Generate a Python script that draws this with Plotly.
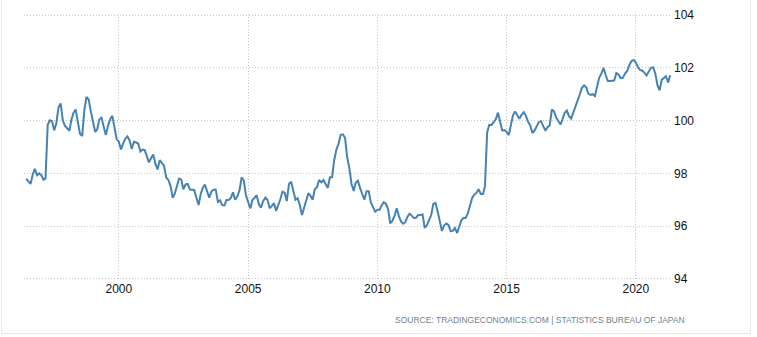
import pandas as pd
import plotly.graph_objects as go

start_month = "1996-06-01"

values_1996_1999 = [
    97.8, 97.7, 97.6, 97.95, 98.17, 97.93, 98.0, 97.93, 97.76, 97.81,
    99.84, 100.01, 99.98, 99.63, 99.9, 100.5, 100.65, 100.0, 99.8, 99.71,
    99.61, 100.02, 100.3, 100.42, 99.93, 99.5, 99.42, 100.4, 100.9, 100.8,
    100.35, 99.95, 99.57, 99.66, 100.05, 100.11, 99.8, 99.45, 99.8, 100.05,
    100.18, 99.68, 99.3,
]
values_2000_2002 = [
    99.2, 98.91, 99.13, 99.31, 99.4, 99.25, 98.93, 99.2, 99.17, 99.13,
    98.83, 98.9, 98.88, 98.63, 98.42, 98.57, 98.72, 98.36, 98.15, 98.5,
    98.36, 98.28, 97.84, 97.75, 97.52, 97.07, 97.23, 97.53, 97.8, 97.77,
    97.4, 97.58, 97.6,
]
values_2002_2008 = [
    97.39, 97.39, 97.37, 97.08, 96.8, 97.2, 97.45, 97.58, 97.3, 97.08,
    97.31, 97.38, 97.39, 96.92, 96.98, 96.8, 96.79, 96.99, 96.99, 97.07,
    97.28, 97.0, 97.12, 97.36, 97.85, 97.73, 97.17, 96.95, 96.67, 96.98,
    97.1, 97.17, 96.84, 96.7, 96.95, 97.08, 97.0, 96.68, 96.76, 96.87,
    96.58, 96.76, 97.02, 97.31, 97.27, 96.95, 97.6, 97.68, 97.35, 97.0,
    97.06, 96.8, 96.42, 96.7, 97.0, 97.25, 97.15, 97.0, 97.4, 97.48,
    97.75, 97.66, 97.75, 97.62, 97.45, 97.85, 97.85, 98.5, 98.9, 99.12,
    99.46, 99.48, 99.35, 98.6, 98.2,
]
values_2009_2015 = [
    97.6, 97.33, 97.65, 97.72, 97.45, 97.2, 97.0, 97.32, 97.32, 96.9,
    96.73, 96.55, 96.62, 96.62, 96.78, 96.91, 96.85, 96.65, 96.11, 96.2,
    96.4, 96.68, 96.38, 96.18, 96.09, 96.15, 96.35, 96.47, 96.4, 96.31,
    96.32, 96.42, 96.42, 96.45, 95.94, 96.03, 96.23, 96.42, 96.84, 96.88,
    96.57, 96.15, 95.82, 96.02, 96.1, 96.05, 95.81, 95.82, 95.93, 95.74,
    95.97, 96.22, 96.31, 96.31, 96.47, 96.8, 97.07, 97.19, 97.26, 97.4,
    97.22, 97.22, 97.5, 99.55, 99.84, 99.83, 99.93, 100.05, 100.3, 99.93,
    99.62, 99.64, 99.57,
]
values_2015_2021 = [
    99.45, 99.85, 100.2, 100.35, 100.18, 100.07, 100.22, 100.32, 100.18, 99.95,
    99.82, 99.53, 99.63, 99.79, 99.95, 99.98, 99.8, 99.62, 99.75, 99.82,
    100.42, 100.35, 100.12, 100.0, 99.85, 100.05, 100.3, 100.38, 100.17, 100.08,
    100.3, 100.52, 100.7, 101.0, 101.25, 101.33, 101.25, 101.02, 100.97, 101.0,
    100.93, 101.3, 101.62, 101.78, 102.0, 101.73, 101.5, 101.5, 101.5, 101.52,
    101.8, 101.75, 101.61, 101.62, 101.78, 101.88, 102.1, 102.26, 102.3, 102.2,
    102.02, 101.92, 101.89, 101.82, 101.71, 101.88, 102.0, 102.02, 101.8, 101.35,
    101.15, 101.55, 101.62, 101.68, 101.45, 101.72,
]

values = values_1996_1999 + values_2000_2002 + values_2002_2008 + values_2009_2015 + values_2015_2021
dates = pd.date_range(start_month, periods=len(values), freq="MS")

y_ticks = [94, 96, 98, 100, 102, 104]
x_tick_years = [2000, 2005, 2010, 2015, 2020]
source_text = "SOURCE: TRADINGECONOMICS.COM | STATISTICS BUREAU OF JAPAN"

fig = go.Figure()
fig.add_trace(go.Scatter(
    x=dates, y=values, mode="lines",
    line=dict(color="#4682b4", width=2),
    hoverinfo="x+y",
))

W, H = 757, 337
L, R, T, B = 24, 85, 14, 57
pw, ph = W - L - R, H - T - B

def px_x(x):
    return (x - L) / pw

def px_y(y):
    return (H - B - y) / ph

grid = "#c4c4c4"
fig.update_layout(
    width=W, height=H,
    margin=dict(l=L, r=R, t=T, b=B, pad=0, autoexpand=False),
    paper_bgcolor="white", plot_bgcolor="white",
    showlegend=False,
    font=dict(family="Liberation Sans, Arial, sans-serif", size=12, color="#111111"),
    xaxis=dict(
        range=["1996-05-01", "2021-05-26"],
        tickvals=[pd.Timestamp(f"{yr}-01-01") for yr in x_tick_years],
        ticktext=[str(yr) for yr in x_tick_years],
        showgrid=True, gridcolor=grid, griddash="1px,2px", gridwidth=1,
        zeroline=False, showline=False, ticks="", automargin=False,
        tickfont=dict(size=12, color="#111111"),
    ),
    yaxis=dict(
        range=[93.96, 104.04], side="right",
        tickvals=y_ticks, ticktext=[str(v) for v in y_ticks],
        showgrid=True, gridcolor=grid, griddash="1px,2px", gridwidth=1,
        zeroline=False, showline=False, ticks="", automargin=False,
        tickfont=dict(size=12, color="#111111"),
        ticklabelstandoff=1,
    ),
    annotations=[dict(
        text=source_text, xref="paper", yref="paper",
        x=px_x(687), y=px_y(320), xanchor="right", yanchor="middle",
        showarrow=False,
        font=dict(family="Liberation Sans, Arial, sans-serif", size=8.5, color="#6f7f8f"),
    )],
    shapes=[
        dict(type="line", xref="paper", yref="paper", x0=px_x(1.5), x1=px_x(1.5),
             y0=px_y(0), y1=px_y(333.5), line=dict(color="#e8e8e8", width=1)),
        dict(type="line", xref="paper", yref="paper", x0=px_x(750.5), x1=px_x(750.5),
             y0=px_y(0), y1=px_y(333.5), line=dict(color="#e8e8e8", width=1)),
        dict(type="line", xref="paper", yref="paper", x0=px_x(1.5), x1=px_x(750.5),
             y0=px_y(333.5), y1=px_y(333.5), line=dict(color="#e8e8e8", width=1)),
    ],
)

fig.write_html("out.html")
